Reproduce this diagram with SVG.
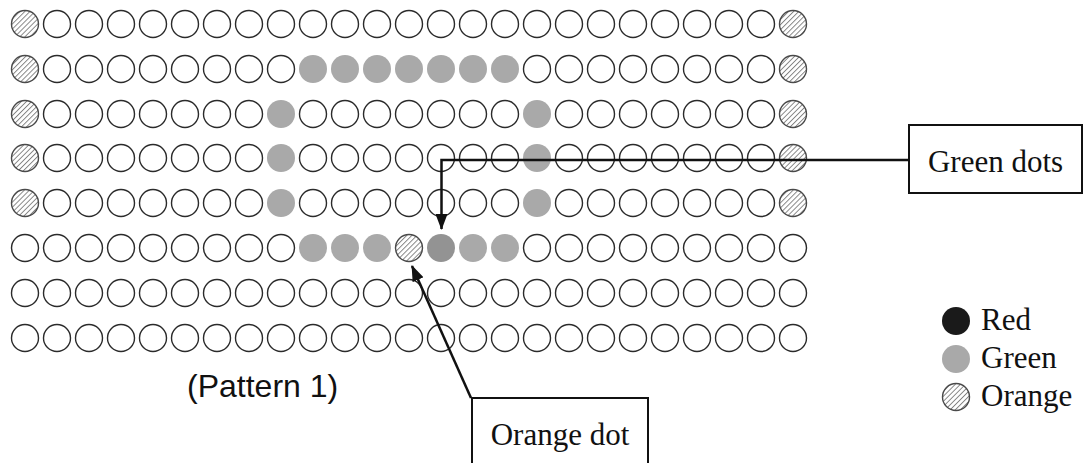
<svg xmlns="http://www.w3.org/2000/svg" width="1087" height="463" viewBox="0 0 1087 463">
<defs>
<pattern id="hatch" patternUnits="userSpaceOnUse" width="3.6" height="3.6" patternTransform="rotate(45)">
<rect width="3.6" height="3.6" fill="#fff"/>
<line x1="0.5" y1="0" x2="0.5" y2="3.6" stroke="#6a6a6a" stroke-width="0.8"/>
</pattern>
<marker id="ah" markerUnits="userSpaceOnUse" markerWidth="16" markerHeight="12" refX="15" refY="6" orient="auto">
<path d="M0,0 L16,6 L0,12 Z" fill="#111"/>
</marker>
</defs>
<style>
.e{fill:#fff;stroke:#2b2b2b;stroke-width:1.4}
.o{fill:url(#hatch);stroke:#4a4a4a;stroke-width:1.4}
.g{fill:#a9a9a9}
.d{fill:#939393}
.r{fill:#1a1a1a}
.box{fill:#fff;stroke:#111;stroke-width:2}
.lbl{font-family:"Liberation Serif","Times New Roman",serif;font-size:31px;fill:#111}
.leg{font-family:"Liberation Serif","Times New Roman",serif;font-size:31px;fill:#111}
.cap{font-family:"Liberation Sans",Arial,sans-serif;font-size:32px;fill:#111}
.con{fill:none;stroke:#111;stroke-width:2.5}
</style>
<g id="grid">
<g id="row1">
<circle class="o" cx="25" cy="24" r="13.5"/><circle class="e" cx="57" cy="24" r="13.5"/><circle class="e" cx="89" cy="24" r="13.5"/><circle class="e" cx="121" cy="24" r="13.5"/><circle class="e" cx="153" cy="24" r="13.5"/><circle class="e" cx="185" cy="24" r="13.5"/><circle class="e" cx="217" cy="24" r="13.5"/><circle class="e" cx="249" cy="24" r="13.5"/><circle class="e" cx="281" cy="24" r="13.5"/><circle class="e" cx="313" cy="24" r="13.5"/><circle class="e" cx="345" cy="24" r="13.5"/><circle class="e" cx="377" cy="24" r="13.5"/><circle class="e" cx="409" cy="24" r="13.5"/><circle class="e" cx="441" cy="24" r="13.5"/><circle class="e" cx="473" cy="24" r="13.5"/><circle class="e" cx="505" cy="24" r="13.5"/><circle class="e" cx="537" cy="24" r="13.5"/><circle class="e" cx="569" cy="24" r="13.5"/><circle class="e" cx="601" cy="24" r="13.5"/><circle class="e" cx="633" cy="24" r="13.5"/><circle class="e" cx="665" cy="24" r="13.5"/><circle class="e" cx="697" cy="24" r="13.5"/><circle class="e" cx="729" cy="24" r="13.5"/><circle class="e" cx="761" cy="24" r="13.5"/><circle class="o" cx="793" cy="24" r="13.5"/>
</g>
<g id="row2">
<circle class="o" cx="25" cy="69" r="13.5"/><circle class="e" cx="57" cy="69" r="13.5"/><circle class="e" cx="89" cy="69" r="13.5"/><circle class="e" cx="121" cy="69" r="13.5"/><circle class="e" cx="153" cy="69" r="13.5"/><circle class="e" cx="185" cy="69" r="13.5"/><circle class="e" cx="217" cy="69" r="13.5"/><circle class="e" cx="249" cy="69" r="13.5"/><circle class="e" cx="281" cy="69" r="13.5"/><circle class="g" cx="313" cy="69" r="14"/><circle class="g" cx="345" cy="69" r="14"/><circle class="g" cx="377" cy="69" r="14"/><circle class="g" cx="409" cy="69" r="14"/><circle class="g" cx="441" cy="69" r="14"/><circle class="g" cx="473" cy="69" r="14"/><circle class="g" cx="505" cy="69" r="14"/><circle class="e" cx="537" cy="69" r="13.5"/><circle class="e" cx="569" cy="69" r="13.5"/><circle class="e" cx="601" cy="69" r="13.5"/><circle class="e" cx="633" cy="69" r="13.5"/><circle class="e" cx="665" cy="69" r="13.5"/><circle class="e" cx="697" cy="69" r="13.5"/><circle class="e" cx="729" cy="69" r="13.5"/><circle class="e" cx="761" cy="69" r="13.5"/><circle class="o" cx="793" cy="69" r="13.5"/>
</g>
<g id="row3">
<circle class="o" cx="25" cy="114" r="13.5"/><circle class="e" cx="57" cy="114" r="13.5"/><circle class="e" cx="89" cy="114" r="13.5"/><circle class="e" cx="121" cy="114" r="13.5"/><circle class="e" cx="153" cy="114" r="13.5"/><circle class="e" cx="185" cy="114" r="13.5"/><circle class="e" cx="217" cy="114" r="13.5"/><circle class="e" cx="249" cy="114" r="13.5"/><circle class="g" cx="281" cy="114" r="14"/><circle class="e" cx="313" cy="114" r="13.5"/><circle class="e" cx="345" cy="114" r="13.5"/><circle class="e" cx="377" cy="114" r="13.5"/><circle class="e" cx="409" cy="114" r="13.5"/><circle class="e" cx="441" cy="114" r="13.5"/><circle class="e" cx="473" cy="114" r="13.5"/><circle class="e" cx="505" cy="114" r="13.5"/><circle class="g" cx="537" cy="114" r="14"/><circle class="e" cx="569" cy="114" r="13.5"/><circle class="e" cx="601" cy="114" r="13.5"/><circle class="e" cx="633" cy="114" r="13.5"/><circle class="e" cx="665" cy="114" r="13.5"/><circle class="e" cx="697" cy="114" r="13.5"/><circle class="e" cx="729" cy="114" r="13.5"/><circle class="e" cx="761" cy="114" r="13.5"/><circle class="o" cx="793" cy="114" r="13.5"/>
</g>
<g id="row4">
<circle class="o" cx="25" cy="158" r="13.5"/><circle class="e" cx="57" cy="158" r="13.5"/><circle class="e" cx="89" cy="158" r="13.5"/><circle class="e" cx="121" cy="158" r="13.5"/><circle class="e" cx="153" cy="158" r="13.5"/><circle class="e" cx="185" cy="158" r="13.5"/><circle class="e" cx="217" cy="158" r="13.5"/><circle class="e" cx="249" cy="158" r="13.5"/><circle class="g" cx="281" cy="158" r="14"/><circle class="e" cx="313" cy="158" r="13.5"/><circle class="e" cx="345" cy="158" r="13.5"/><circle class="e" cx="377" cy="158" r="13.5"/><circle class="e" cx="409" cy="158" r="13.5"/><circle class="e" cx="441" cy="158" r="13.5"/><circle class="e" cx="473" cy="158" r="13.5"/><circle class="e" cx="505" cy="158" r="13.5"/><circle class="g" cx="537" cy="158" r="14"/><circle class="e" cx="569" cy="158" r="13.5"/><circle class="e" cx="601" cy="158" r="13.5"/><circle class="e" cx="633" cy="158" r="13.5"/><circle class="e" cx="665" cy="158" r="13.5"/><circle class="e" cx="697" cy="158" r="13.5"/><circle class="e" cx="729" cy="158" r="13.5"/><circle class="e" cx="761" cy="158" r="13.5"/><circle class="o" cx="793" cy="158" r="13.5"/>
</g>
<g id="row5">
<circle class="o" cx="25" cy="203" r="13.5"/><circle class="e" cx="57" cy="203" r="13.5"/><circle class="e" cx="89" cy="203" r="13.5"/><circle class="e" cx="121" cy="203" r="13.5"/><circle class="e" cx="153" cy="203" r="13.5"/><circle class="e" cx="185" cy="203" r="13.5"/><circle class="e" cx="217" cy="203" r="13.5"/><circle class="e" cx="249" cy="203" r="13.5"/><circle class="g" cx="281" cy="203" r="14"/><circle class="e" cx="313" cy="203" r="13.5"/><circle class="e" cx="345" cy="203" r="13.5"/><circle class="e" cx="377" cy="203" r="13.5"/><circle class="e" cx="409" cy="203" r="13.5"/><circle class="e" cx="441" cy="203" r="13.5"/><circle class="e" cx="473" cy="203" r="13.5"/><circle class="e" cx="505" cy="203" r="13.5"/><circle class="g" cx="537" cy="203" r="14"/><circle class="e" cx="569" cy="203" r="13.5"/><circle class="e" cx="601" cy="203" r="13.5"/><circle class="e" cx="633" cy="203" r="13.5"/><circle class="e" cx="665" cy="203" r="13.5"/><circle class="e" cx="697" cy="203" r="13.5"/><circle class="e" cx="729" cy="203" r="13.5"/><circle class="e" cx="761" cy="203" r="13.5"/><circle class="o" cx="793" cy="203" r="13.5"/>
</g>
<g id="row6">
<circle class="e" cx="25" cy="248" r="13.5"/><circle class="e" cx="57" cy="248" r="13.5"/><circle class="e" cx="89" cy="248" r="13.5"/><circle class="e" cx="121" cy="248" r="13.5"/><circle class="e" cx="153" cy="248" r="13.5"/><circle class="e" cx="185" cy="248" r="13.5"/><circle class="e" cx="217" cy="248" r="13.5"/><circle class="e" cx="249" cy="248" r="13.5"/><circle class="e" cx="281" cy="248" r="13.5"/><circle class="g" cx="313" cy="248" r="14"/><circle class="g" cx="345" cy="248" r="14"/><circle class="g" cx="377" cy="248" r="14"/><circle class="o" cx="409" cy="248" r="13.5"/><circle class="d" cx="441" cy="248" r="14"/><circle class="g" cx="473" cy="248" r="14"/><circle class="g" cx="505" cy="248" r="14"/><circle class="e" cx="537" cy="248" r="13.5"/><circle class="e" cx="569" cy="248" r="13.5"/><circle class="e" cx="601" cy="248" r="13.5"/><circle class="e" cx="633" cy="248" r="13.5"/><circle class="e" cx="665" cy="248" r="13.5"/><circle class="e" cx="697" cy="248" r="13.5"/><circle class="e" cx="729" cy="248" r="13.5"/><circle class="e" cx="761" cy="248" r="13.5"/><circle class="e" cx="793" cy="248" r="13.5"/>
</g>
<g id="row7">
<circle class="e" cx="25" cy="293" r="13.5"/><circle class="e" cx="57" cy="293" r="13.5"/><circle class="e" cx="89" cy="293" r="13.5"/><circle class="e" cx="121" cy="293" r="13.5"/><circle class="e" cx="153" cy="293" r="13.5"/><circle class="e" cx="185" cy="293" r="13.5"/><circle class="e" cx="217" cy="293" r="13.5"/><circle class="e" cx="249" cy="293" r="13.5"/><circle class="e" cx="281" cy="293" r="13.5"/><circle class="e" cx="313" cy="293" r="13.5"/><circle class="e" cx="345" cy="293" r="13.5"/><circle class="e" cx="377" cy="293" r="13.5"/><circle class="e" cx="409" cy="293" r="13.5"/><circle class="e" cx="441" cy="293" r="13.5"/><circle class="e" cx="473" cy="293" r="13.5"/><circle class="e" cx="505" cy="293" r="13.5"/><circle class="e" cx="537" cy="293" r="13.5"/><circle class="e" cx="569" cy="293" r="13.5"/><circle class="e" cx="601" cy="293" r="13.5"/><circle class="e" cx="633" cy="293" r="13.5"/><circle class="e" cx="665" cy="293" r="13.5"/><circle class="e" cx="697" cy="293" r="13.5"/><circle class="e" cx="729" cy="293" r="13.5"/><circle class="e" cx="761" cy="293" r="13.5"/><circle class="e" cx="793" cy="293" r="13.5"/>
</g>
<g id="row8">
<circle class="e" cx="25" cy="338" r="13.5"/><circle class="e" cx="57" cy="338" r="13.5"/><circle class="e" cx="89" cy="338" r="13.5"/><circle class="e" cx="121" cy="338" r="13.5"/><circle class="e" cx="153" cy="338" r="13.5"/><circle class="e" cx="185" cy="338" r="13.5"/><circle class="e" cx="217" cy="338" r="13.5"/><circle class="e" cx="249" cy="338" r="13.5"/><circle class="e" cx="281" cy="338" r="13.5"/><circle class="e" cx="313" cy="338" r="13.5"/><circle class="e" cx="345" cy="338" r="13.5"/><circle class="e" cx="377" cy="338" r="13.5"/><circle class="e" cx="409" cy="338" r="13.5"/><circle class="e" cx="441" cy="338" r="13.5"/><circle class="e" cx="473" cy="338" r="13.5"/><circle class="e" cx="505" cy="338" r="13.5"/><circle class="e" cx="537" cy="338" r="13.5"/><circle class="e" cx="569" cy="338" r="13.5"/><circle class="e" cx="601" cy="338" r="13.5"/><circle class="e" cx="633" cy="338" r="13.5"/><circle class="e" cx="665" cy="338" r="13.5"/><circle class="e" cx="697" cy="338" r="13.5"/><circle class="e" cx="729" cy="338" r="13.5"/><circle class="e" cx="761" cy="338" r="13.5"/><circle class="e" cx="793" cy="338" r="13.5"/>
</g>
</g>
<g id="caption"><text class="cap" x="187" y="397">(Pattern 1)</text></g>
<g id="connectors">
<path class="con" d="M909,160 H441.5 V229" marker-end="url(#ah)"/>
<path class="con" d="M471,398 L412,266" stroke-width="2" marker-end="url(#ah)"/>
</g>
<g id="green-dots-box">
<rect class="box" x="909" y="125" width="173" height="68"/>
<text class="lbl" x="995.5" y="172" text-anchor="middle">Green dots</text>
</g>
<g id="orange-dot-box">
<rect class="box" x="472" y="398" width="176" height="80"/>
<text class="lbl" x="560" y="445" text-anchor="middle">Orange dot</text>
</g>
<g id="legend">
<g id="legend-red"><circle class="r" cx="956" cy="321" r="14"/><text class="leg" x="981" y="330">Red</text></g>
<g id="legend-green"><circle class="g" cx="956" cy="359" r="14"/><text class="leg" x="981" y="368">Green</text></g>
<g id="legend-orange"><circle class="o" cx="956" cy="397" r="13.5"/><text class="leg" x="981" y="406">Orange</text></g>
</g>
</svg>
